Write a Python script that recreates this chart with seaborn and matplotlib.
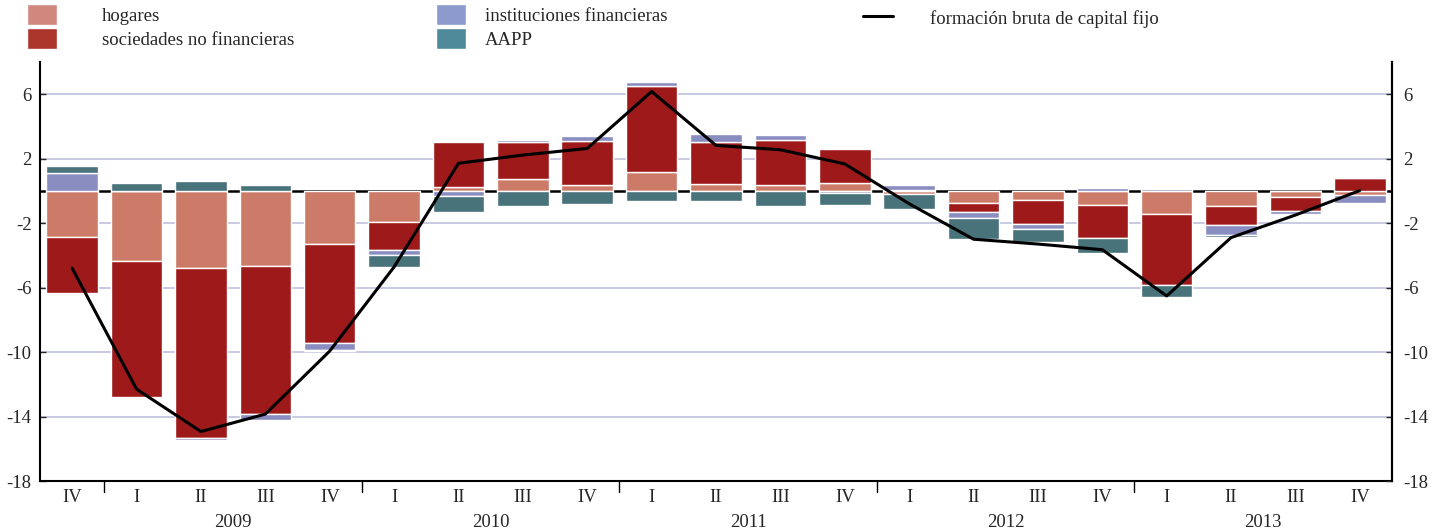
import numpy as np
import pandas as pd
import matplotlib
matplotlib.use('Agg')
import matplotlib.pyplot as plt
from matplotlib.patches import Patch
from matplotlib.lines import Line2D
import seaborn as sns

# quarters 2008 IV .. 2013 IV
quarters = ['IV', 'I', 'II', 'III', 'IV', 'I', 'II', 'III', 'IV', 'I', 'II', 'III', 'IV',
            'I', 'II', 'III', 'IV', 'I', 'II', 'III', 'IV']
years = ['2009', '2010', '2011', '2012', '2013']

# contributions (pp)
hogares = [-2.87, -4.33, -4.76, -4.66, -3.28, -1.92, 0.27, 0.74, 0.39, 1.19, 0.43,
           0.39, 0.48, -0.20, -0.74, -0.56, -0.85, -1.42, -0.95, -0.40, -0.25]
sociedades = [-3.46, -8.43, -10.60, -9.17, -6.18, -1.73, 2.78, 2.26, 2.70, 5.32, 2.57,
              2.74, 2.14, 0.05, -0.56, -1.48, -2.06, -4.44, -1.15, -0.88, 0.78]
instituciones = [1.10, 0.00, -0.10, -0.37, -0.42, -0.30, -0.30, 0.15, 0.33, 0.25, 0.50,
                 0.33, -0.15, 0.30, -0.37, -0.35, 0.19, 0.14, -0.62, -0.17, -0.52]
aapp = [0.45, 0.49, 0.62, 0.37, -0.05, -0.75, -1.00, -0.93, -0.80, -0.60, -0.66,
        -0.91, -0.75, -0.95, -1.30, -0.81, -0.92, -0.74, -0.15, 0.00, 0.00]
fbcf = [-4.80, -12.30, -14.93, -13.85, -9.94, -4.72, 1.71, 2.22, 2.63, 6.16, 2.82,
        2.55, 1.67, -0.80, -3.00, -3.30, -3.65, -6.52, -2.90, -1.50, 0.02]

series = [('hogares', hogares, '#CD7B69', '#D0877E'),
          ('sociedades no financieras', sociedades, '#9E1A1A', '#AB342B'),
          ('instituciones financieras', instituciones, '#8A8DC0', '#8C9BCB'),
          ('AAPP', aapp, '#48737A', '#4E8A9A')]

sns.set_style('white')
plt.rcParams['font.family'] = ['Liberation Serif', 'DejaVu Serif']
plt.rcParams['font.size'] = 13.5

fig = plt.figure(figsize=(14.44, 5.29), dpi=100)
ax = fig.add_axes([0.0277, 0.0907, 0.9363, 0.7923])

pos = np.arange(len(quarters))
ax.axhline(0, color='black', lw=1.8, zorder=1)

pos_base = np.zeros(len(pos))
neg_base = np.zeros(len(pos))
for name, vals, col, _ in series:
    v = np.array(vals)
    bottom = np.where(v >= 0, pos_base, neg_base)
    sns.barplot(x=pos, y=v, bottom=bottom, color=col, width=0.8, saturation=1,
                edgecolor='white', linewidth=1, ax=ax, zorder=2)
    pos_base = pos_base + np.where(v >= 0, v, 0)
    neg_base = neg_base + np.where(v < 0, v, 0)

sns.lineplot(x=pos, y=fbcf, color='black', lw=2.2, ax=ax, zorder=3)

ax.set_ylim(-18, 8)
ax.set_xlim(-0.5, len(pos) - 0.5)
yt = [6, 2, -2, -6, -10, -14, -18]
ax.set_yticks(yt)
ax.set_yticklabels([str(t) for t in yt])
for t in yt[:-1]:
    ax.axhline(t, color='#BFC1DD', lw=1.2, zorder=0)

ax.set_xticks(pos)
ax.set_xticklabels(quarters)
ax.set_xticks(np.arange(-0.5, len(pos), 1), minor=True)
ax.tick_params(axis='x', which='major', length=0, pad=6)
ax.tick_params(axis='x', which='minor', length=5, width=1, direction='out', color='black')
ax.tick_params(axis='y', which='major', length=4, width=1, direction='in', pad=6, left=True)
for b in [0.5, 4.5, 8.5, 12.5, 16.5]:
    ax.plot([b, b], [0, -0.027], transform=ax.get_xaxis_transform(), color='black',
            lw=1, clip_on=False)
for i, y in enumerate(years):
    ax.text(1 + 4 * i + 1.5, -0.098, y, transform=ax.get_xaxis_transform(),
            ha='center', va='center')
ax.set_xlabel('')
ax.set_ylabel('')

for s in ['left', 'right', 'bottom']:
    ax.spines[s].set_visible(True)
    ax.spines[s].set_color('black')
    ax.spines[s].set_linewidth(1.5)
ax.spines['top'].set_visible(False)

ax2 = ax.twinx()
ax2.set_ylim(ax.get_ylim())
ax2.set_yticks(yt)
ax2.set_yticklabels([str(t) for t in yt])
ax2.tick_params(axis='y', length=4, width=1, direction='in', pad=8, right=True)
for s in ['left', 'top', 'bottom']:
    ax2.spines[s].set_visible(False)
ax2.spines['right'].set_color('black')
ax2.spines['right'].set_linewidth(1.5)

# legends
h1 = [Patch(facecolor=series[0][3], label=series[0][0]),
      Patch(facecolor=series[1][3], label=series[1][0])]
h2 = [Patch(facecolor=series[2][3], label=series[2][0]),
      Patch(facecolor=series[3][3], label=series[3][0])]
h3 = [Line2D([0], [0], color='black', lw=2.2, label='formación bruta de capital fijo')]
common = dict(loc='upper left', frameon=False, borderpad=0, borderaxespad=0,
              handlelength=1.6, handleheight=1.3, labelspacing=0.2)
fig.legend(handles=h1, bbox_to_anchor=(0.0187, 0.992), handletextpad=2.4, **common)
fig.legend(handles=h2, bbox_to_anchor=(0.302, 0.992), handletextpad=1.0, **common)
fig.legend(handles=h3, bbox_to_anchor=(0.5976, 0.985), handletextpad=2.0, **common)

fig.savefig('out.png', dpi=100)
